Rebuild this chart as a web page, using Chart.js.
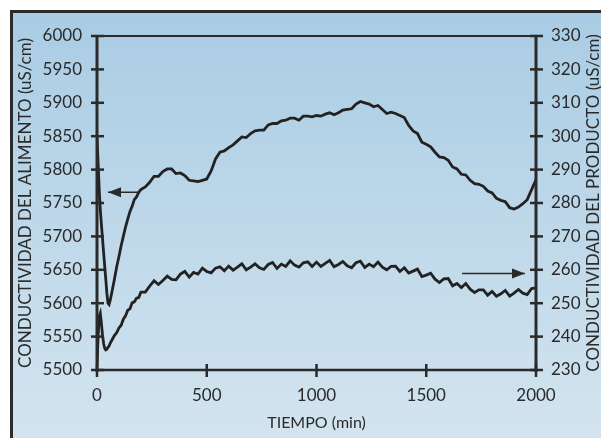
<!DOCTYPE html>
<html>
<head>
<meta charset="utf-8">
<script src="https://cdn.jsdelivr.net/npm/chart.js@4.4.0/dist/chart.umd.min.js"></script>
<style>
  html, body { margin: 0; padding: 0; background: #fff; }
  #wrap { width: 601px; height: 438px; }
</style>
</head>
<body>
<div id="wrap"><canvas id="grafico" width="601" height="438"></canvas></div>
<script>
// Conductividad del alimento (eje izquierdo) y del producto (eje derecho) frente al tiempo

const tiempo = [
  0, 5, 10, 15, 20, 25, 30, 35, 40, 45, 50, 55, 60, 70, 80, 90, 100, 110, 120, 130,
  140, 150, 160, 170, 180, 190, 200, 220, 240, 260, 280, 300, 320, 340, 360, 380,
  400, 420, 440, 460, 480, 500, 520, 540, 560, 580, 600, 620, 640, 660, 680, 700,
  720, 740, 760, 780, 800, 820, 840, 860, 880, 900, 920, 940, 960, 980, 1000, 1020,
  1040, 1060, 1080, 1100, 1120, 1140, 1160, 1180, 1200, 1220, 1240, 1260, 1280, 1300,
  1320, 1340, 1360, 1380, 1400, 1420, 1440, 1460, 1480, 1500, 1520, 1540, 1560, 1580,
  1600, 1620, 1640, 1660, 1680, 1700, 1720, 1740, 1760, 1780, 1800, 1820, 1840, 1860,
  1880, 1900, 1920, 1940, 1960, 1980, 2000
];

// uS/cm, eje izquierdo
const alimento = [
  5848, 5810, 5770, 5740, 5718, 5697, 5676, 5656, 5636, 5615, 5600, 5598, 5604, 5620, 5637, 5655, 5670, 5686, 5700, 5714,
  5726, 5737, 5745, 5755, 5759, 5766, 5770, 5774, 5781, 5790, 5790, 5797, 5801, 5801, 5794, 5795,
  5791, 5784, 5783, 5782, 5784, 5786, 5798, 5816, 5826, 5828, 5833, 5837, 5843, 5849, 5848, 5854,
  5858, 5859, 5859, 5867, 5869, 5869, 5873, 5874, 5877, 5877, 5874, 5880, 5880, 5879, 5881, 5880,
  5883, 5885, 5882, 5885, 5889, 5890, 5891, 5898, 5902, 5900, 5898, 5894, 5896, 5890,
  5884, 5886, 5884, 5881, 5878, 5866, 5858, 5854, 5841, 5838, 5834, 5826, 5819, 5818,
  5814, 5804, 5801, 5793, 5792, 5784, 5779, 5778, 5775, 5768, 5765, 5757, 5754, 5752,
  5743, 5741, 5744, 5749, 5755, 5770, 5785
];

// uS/cm, eje derecho
const producto = [
  231, 240, 246, 247, 244, 240.5, 238, 236.5, 236, 236.2, 236.8, 237.2, 238, 239.2, 240.4, 241.2, 242.6, 243.4, 245.2, 246.2,
  247.9, 248.3, 250.1, 250.4, 251.5, 251.7, 253.3, 253.3, 255.1, 256.7, 255.6, 256.8, 258.1, 257.1, 257, 258.7,
  259.5, 257.8, 259.2, 258.7, 260.5, 259.5, 259.1, 260.5, 260.9, 259.7, 261.1, 259.9, 260.8, 261.8, 260, 260.8,
  261.8, 260.6, 260.1, 261.6, 262.2, 260.4, 261.7, 261, 262.7, 261.4, 260.8, 262.1, 262.4, 261, 262.3, 261,
  261.9, 262.8, 260.9, 261.6, 262.5, 261.2, 260.6, 262.1, 262.6, 260.7, 261.7, 260.9, 262.3, 260.8,
  260, 261, 261.1, 259.5, 260.6, 259, 259.6, 260.2, 258, 258.4, 259, 257.2, 256.2, 257.3,
  257.4, 255.2, 255.9, 254.7, 255.9, 254.2, 253.2, 254, 254, 252.4, 253.5, 252.1, 252.8, 253.8,
  252.1, 253, 254.1, 253, 252.6, 254.4, 254.6
];

// flechas: [tiempo origen, tiempo punta, valor]
const flechaAlimento = [196, 50, 5766];
const flechaProducto = [1663, 1950, 258.9];

const tickX = [0, 500, 1000, 1500, 2000];
const FUENTE = 'Lato, "DejaVu Sans", sans-serif';
const TINTA = '#2a2a2a';

const puntos = (ys) => tiempo.map((t, i) => ({ x: t, y: ys[i] }));

const fondo = {
  id: 'fondo',
  beforeDraw(chart) {
    const ctx = chart.ctx;
    ctx.save();
    ctx.fillStyle = '#ffffff';
    ctx.fillRect(0, 0, chart.width, chart.height);
    const g = ctx.createLinearGradient(0, 10, 0, chart.height);
    g.addColorStop(0, '#a9cce4');
    g.addColorStop(1, '#d3e4ef');
    ctx.fillStyle = g;
    ctx.fillRect(10, 10, chart.width - 10, chart.height - 10);
    ctx.strokeStyle = '#2b2b2b';
    ctx.lineWidth = 3;
    ctx.beginPath();
    ctx.moveTo(11.5, chart.height);
    ctx.lineTo(11.5, 11.5);
    ctx.lineTo(chart.width, 11.5);
    ctx.stroke();
    ctx.restore();
  }
};

function linea(ctx, x1, y1, x2, y2) {
  ctx.beginPath();
  ctx.moveTo(x1, y1);
  ctx.lineTo(x2, y2);
  ctx.stroke();
}

function flecha(ctx, x1, x2, y) {
  linea(ctx, x1, y, x2, y);
  const dir = Math.sign(x2 - x1);
  ctx.beginPath();
  ctx.moveTo(x2, y);
  ctx.lineTo(x2 - dir * 13, y - 5);
  ctx.lineTo(x2 - dir * 13, y + 5);
  ctx.closePath();
  ctx.fill();
}

const ejes = {
  id: 'ejes',
  afterDatasetsDraw(chart) {
    const { ctx, chartArea: a, scales } = chart;
    ctx.save();
    ctx.strokeStyle = TINTA;
    ctx.fillStyle = TINTA;
    ctx.lineWidth = 3;
    linea(ctx, a.left, a.top - 1, a.left, a.bottom + 2);
    linea(ctx, a.right, a.top - 1, a.right, a.bottom + 2);
    ctx.lineWidth = 2.5;
    linea(ctx, a.left, a.bottom, a.right, a.bottom);
    ctx.lineWidth = 2;
    linea(ctx, a.left, a.top, a.right, a.top);

    ctx.lineWidth = 2.5;
    scales.y.ticks.forEach(t => {
      const y = scales.y.getPixelForValue(t.value);
      linea(ctx, a.left - 6, y, a.left + 7, y);
    });
    scales.y1.ticks.forEach(t => {
      const y = scales.y1.getPixelForValue(t.value);
      linea(ctx, a.right - 6, y, a.right + 7, y);
    });
    scales.x.ticks.forEach(t => {
      const x = scales.x.getPixelForValue(t.value);
      linea(ctx, x, a.bottom - 6, x, a.bottom + 7);
    });

    ctx.lineWidth = 1.5;
    flecha(ctx, scales.x.getPixelForValue(flechaAlimento[0]), scales.x.getPixelForValue(flechaAlimento[1]),
      scales.y.getPixelForValue(flechaAlimento[2]));
    flecha(ctx, scales.x.getPixelForValue(flechaProducto[0]), scales.x.getPixelForValue(flechaProducto[1]),
      scales.y1.getPixelForValue(flechaProducto[2]));

    // títulos verticales, ambos leídos de abajo arriba
    ctx.font = '17px ' + FUENTE;
    ctx.textAlign = 'center';
    ctx.textBaseline = 'middle';
    const cy = (a.top + a.bottom) / 2;
    [[26, 'CONDUCTIVIDAD DEL ALIMENTO (uS/cm)'], [594, 'CONDUCTIVIDAD DEL PRODUCTO (uS/cm)']].forEach(([x, txt]) => {
      ctx.save();
      ctx.translate(x, cy);
      ctx.rotate(-Math.PI / 2);
      ctx.fillText(txt, 0, 0);
      ctx.restore();
    });
    ctx.restore();
  }
};

const marca = (v) => String(v);

new Chart(document.getElementById('grafico'), {
  type: 'line',
  data: {
    datasets: [
      { label: 'Alimento', data: puntos(alimento), yAxisID: 'y' },
      { label: 'Producto', data: puntos(producto), yAxisID: 'y1' }
    ]
  },
  options: {
    responsive: false,
    animation: false,
    events: [],
    layout: { padding: { top: 36, left: 0, right: 0, bottom: 0 } },
    elements: {
      point: { radius: 0 },
      line: { borderColor: '#222222', borderWidth: 2.8, borderJoinStyle: 'miter', tension: 0, fill: false }
    },
    plugins: { legend: { display: false }, tooltip: { enabled: false } },
    scales: {
      x: {
        type: 'linear', min: 0, max: 2000,
        afterBuildTicks: (s) => { s.ticks = tickX.map(v => ({ value: v })); },
        afterFit: (s) => { s.height = 68; },
        grid: { display: false, drawTicks: false },
        border: { display: false },
        ticks: { padding: 15, color: TINTA, callback: marca, font: { family: FUENTE, size: 17 } },
        title: { display: true, text: 'TIEMPO (min)', color: TINTA, padding: { top: 0, bottom: 6 }, font: { family: FUENTE, size: 16 } }
      },
      y: {
        position: 'left', min: 5500, max: 6000,
        afterFit: (s) => { s.width = 97; },
        grid: { display: false, drawTicks: false },
        border: { display: false },
        ticks: { stepSize: 50, padding: 15, color: TINTA, callback: marca, font: { family: FUENTE, size: 17 } }
      },
      y1: {
        position: 'right', min: 230, max: 330,
        afterFit: (s) => { s.width = 65; },
        grid: { display: false, drawTicks: false },
        border: { display: false },
        ticks: { stepSize: 10, padding: 15, color: TINTA, callback: marca, font: { family: FUENTE, size: 17 } }
      }
    }
  },
  plugins: [fondo, ejes]
});
</script>
</body>
</html>
